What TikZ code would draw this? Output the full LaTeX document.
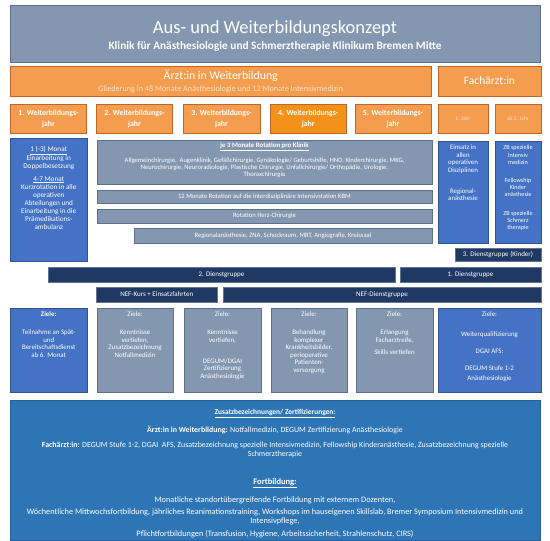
\documentclass[tikz,border=0pt]{standalone}
\usepackage{fontspec}
\setmainfont{Carlito}
\definecolor{slate}{HTML}{8497B0}
\definecolor{slateD}{HTML}{5D6F8A}
\definecolor{orng}{HTML}{F59D4E}
\definecolor{orngD}{HTML}{C0652A}
\definecolor{orng4}{HTML}{F39219}
\definecolor{blu}{HTML}{4472C4}
\definecolor{bluD}{HTML}{2F5597}
\definecolor{navy}{HTML}{203864}
\definecolor{botblue}{HTML}{2E75B6}
\definecolor{pale}{HTML}{FCE0C8}
\newcommand\fs[2]{\fontsize{#1pt}{#2pt}\selectfont}
\newcommand\bx[7]{\node[#6,anchor=north west,minimum width={(#4-#2)*1pt},minimum height={(#5-#3)*1pt}] (#1) at (#2,#3) {#7};}
\begin{document}
\begin{tikzpicture}[x=1pt,y=-1pt,
  box/.style={rectangle,draw,inner sep=0pt,outer sep=0pt,line width=0.6pt,text=white,align=center},
  slatebox/.style={box,fill=slate,draw=slateD},
  orangebox/.style={box,fill=orng,draw=orngD},
  bluebox/.style={box,fill=blu,draw=bluD},
  navybox/.style={box,fill=navy,draw=navy!70!white,font=\fs{7}{8}},
  yearbox/.style={orangebox,font=\bfseries\fs{7.8}{10.5}},
  smallyear/.style={orangebox,font=\fs{5.5}{7},text=pale},
  rotbox/.style={slatebox,font=\fs{6.6}{8}},
  txt/.style={inner sep=0pt,outer sep=0pt,text=white,align=center},
  zieltxt/.style={txt,anchor=north,font=\fs{6.9}{7.5}},
  bottxt/.style={txt,font=\fs{7.9}{9.6}},
  fortxt/.style={txt,font=\fs{8.3}{9.6}},
  bothead/.style={txt,anchor=base,font=\bfseries\fs{7.4}{9}}
]
\useasboundingbox (0,0) rectangle (550,541);
\fill[white] (0,0) rectangle (550,541);

% header
\bx{head}{10.5}{5}{540}{62}{slatebox}{}
\node[txt,anchor=base,font=\fs{18.5}{22}] (title) at (275,33.3) {Aus- und Weiterbildungskonzept};
\node[txt,anchor=base,font=\bfseries\fs{11.3}{13}] (subtitle) at (275,49.8) {Klinik für Anästhesiologie und Schmerztherapie Klinikum Bremen Mitte};

% orange row
\bx{aiw}{10.5}{66}{431}{96}{orangebox}{}
\node[txt,anchor=base,font=\fs{11.8}{13}] (aiwT) at (220.75,79.3) {Ärzt:in in Weiterbildung};
\node[txt,anchor=base,font=\fs{8.2}{10},text=pale] (aiwS) at (220.75,91.6) {Gliederung in 48 Monate Anästhesiologie und 12 Monate Intensivmedizin};
\bx{fa}{438}{66}{541}{96}{orangebox,font=\fs{11.5}{13}}{Fachärzt:in}

% year boxes
\bx{y1}{10.5}{104.5}{86.5}{133.5}{yearbox}{1. Weiterbildungs-\\jahr}
\bx{y2}{96.5}{104.5}{172.5}{133.5}{yearbox}{2. Weiterbildungs-\\jahr}
\bx{y3}{183}{104.5}{260}{133.5}{yearbox}{3. Weiterbildungs-\\jahr}
\bx{y4}{270}{104.5}{346.5}{133.5}{yearbox,fill=orng4}{4. Weiterbildungs-\\jahr}
\bx{y5}{355}{104.5}{431}{133.5}{yearbox}{5. Weiterbildungs-\\jahr}
\bx{j1}{438}{104.5}{488}{133.5}{smallyear}{1. Jahr}
\bx{j2}{495}{104.5}{541}{133.5}{smallyear}{ab 2. Jahr}

% left blue box
\bx{lb}{10.5}{138}{87}{261}{bluebox}{}
\node[txt,anchor=north,font=\fs{7.2}{8}] (lbT) at (48.75,146.5) {\underline{1 (-3) Monat}\\[0.8pt]Einarbeitung in\\Doppelbesetzung\\[4.5pt]\underline{4-7 Monat}\\[0.8pt]Kurzrotation in alle\\operativen\\Abteilungen und\\Einarbeitung in die\\Prämedikations-\\ambulanz};

% rotation boxes
\bx{rot}{97}{140}{432}{184}{slatebox}{}
\node[txt,anchor=base,font=\bfseries\fs{6.8}{8}] (rotH) at (264.5,147.2) {\underline{je 3 Monate Rotation pro Klinik}};
\node[txt,anchor=north,font=\fs{6.6}{6.8}] (rotT) at (264.5,158.3) {Allgemeinchirurgie,\ \ Augenklinik, Gefäßchirurgie, Gynäkologie/ Geburtshilfe, HNO, Kinderchirurgie, MKG,\\Neurochirurgie, Neuroradiologie, Plastische Chirurgie, Unfallchirurgie/ Orthopädie, Urologie,\\Thoraxchirurgie};
\bx{icu}{97}{190}{432}{203}{rotbox}{12 Monate Rotation auf die interdisziplinäre Intensivstation KBM}
\bx{herz}{97}{209}{432}{223}{rotbox}{Rotation Herz-Chirurgie}
\bx{reg}{134}{228}{432}{243}{rotbox}{Regionalanästhesie, ZNA, Schockraum, MRT, Angiografie, Kreissaal}

% right blue boxes
\bx{eia}{438}{141}{488}{243}{bluebox}{}
\node[txt,anchor=north,font=\fs{6.8}{7.4}] (eiaT) at (463,145.3) {Einsatz in\\allen\\operativen\\Disziplinen\\[13.5pt]Regional-\\anästhesie};
\bx{zb}{495}{141}{541}{243}{bluebox}{}
\node[txt,anchor=north,font=\fs{6.2}{7.2}] (zbT) at (518,145.5) {ZB spezielle\\Intensiv\\medizin\\[11pt]Fellowship\\Kinder\\anästhesie\\[11pt]ZB spezielle\\Schmerz\\therapie};

% duty groups
\bx{dg3}{455}{248}{541}{261}{navybox}{3. Dienstgruppe (Kinder)}
\bx{dg2}{48}{267}{395}{282}{navybox}{2. Dienstgruppe}
\bx{dg1}{400}{267}{541}{282}{navybox}{1. Dienstgruppe}
\bx{nefk}{96}{287}{217.5}{302}{navybox}{NEF-Kurs + Einsatzfahrten}
\bx{nefd}{223}{287}{541}{302}{navybox}{NEF-Dienstgruppe}

% goals
\bx{z1}{10.5}{308}{87}{392}{bluebox}{}
\bx{z2}{97}{308}{173}{392}{slatebox}{}
\bx{z3}{184}{308}{261}{392}{slatebox}{}
\bx{z4}{271}{308}{347}{392}{slatebox}{}
\bx{z5}{356}{308}{433}{392}{slatebox}{}
\bx{z6}{438}{308}{541}{392}{bluebox}{}
\node[zieltxt] (z1T) at (48.75,311.8) {\textbf{Ziele:}\\[10.5pt]Teilnahme an Spät-\\und\\Bereitschaftsdienst\\ab 6. Monat};
\node[zieltxt] (z2T) at (135,311.8) {Ziele:\\[10.5pt]Kenntnisse\\vertiefen,\\Zusatzbezeichnung\\Notfallmedizin};
\node[zieltxt] (z3T) at (222.5,311.8) {Ziele:\\[10.5pt]Kenntnisse\\vertiefen,\\[13.5pt]DEGUM/DGAI\\Zertifizierung\\Anästhesiologie};
\node[zieltxt] (z4T) at (309,311.8) {Ziele:\\[10.5pt]Behandlung\\komplexer\\Krankheitsbilder,\\perioperative\\Patienten-\\versorgung};
\node[zieltxt] (z5T) at (394.5,311.8) {Ziele:\\[10.5pt]Erlangung\\Facharztreife,\\[4.5pt]Skills vertiefen};
\node[zieltxt] (z6T) at (489.5,311.8) {Ziele:\\[12.5pt]Weiterqualifizierung\\[9.5pt]DGAI AFS:\\[9.5pt]DEGUM Stufe 1-2\\[2.5pt]Anästhesiologie};

% bottom box
\bx{bot}{10.5}{400}{540}{540}{box,fill=botblue,draw=botblue!80!black}{}
\node[bothead] (zh) at (275,414.5) {\underline{Zusatzbezeichnungen/ Zertifizierungen:}};
\node[bottxt,anchor=base] (za) at (275,432.2) {\textbf{Ärzt:in in Weiterbildung:} Notfallmedizin, DEGUM Zertifizierung Anästhesiologie};
\node[bottxt,anchor=north] (zf) at (275,441.5) {\textbf{Fachärzt:in:} DEGUM Stufe 1-2, DGAI\ \ AFS, Zusatzbezeichnung spezielle Intensivmedizin, Fellowship Kinderanästhesie, Zusatzbezeichnung spezielle\\Schmerztherapie};
\node[bothead,font=\bfseries\fs{8.5}{10}] (fh) at (275,484.5) {\underline{Fortbildung:}};
\node[fortxt,anchor=base] (f1) at (275,502) {Monatliche standortübergreifende Fortbildung mit externem Dozenten,};
\node[fortxt,anchor=north] (f2) at (275,508.3) {Wöchentliche Mittwochsfortbildung, jährliches Reanimationstraining, Workshops im hauseigenen Skillslab, Bremer Symposium Intensivmedizin und\\Intensivpflege,};
\node[fortxt,anchor=base] (f3) at (275,536.2) {Pflichtfortbildungen (Transfusion, Hygiene, Arbeitssicherheit, Strahlenschutz, CIRS)};
\end{tikzpicture}
\end{document}
